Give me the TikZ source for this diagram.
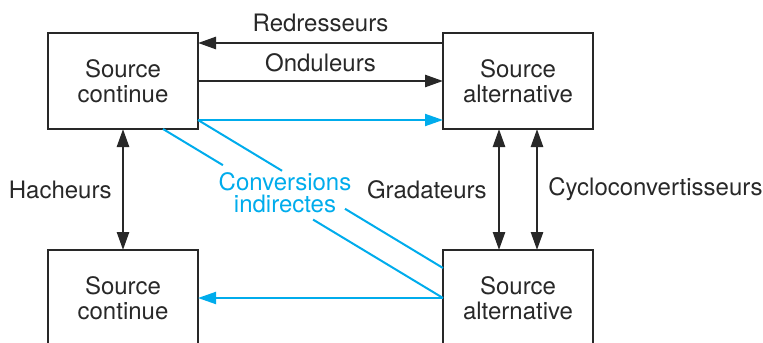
\documentclass[tikz,border=0pt]{standalone}
\usepackage{fontspec}
\setmainfont{TeX Gyre Heros}
\usetikzlibrary{positioning, calc, arrows.meta}
\definecolor{inkgray}{RGB}{40,40,40}
\definecolor{convblue}{RGB}{0,172,236}

\begin{document}
\begin{tikzpicture}[x=0.5pt, y=-0.5pt,
    >={Triangle[length=9pt,width=6pt]},
    src/.style={draw=inkgray, line width=1pt, minimum width=75pt, minimum height=48pt,
        inner sep=0pt, outer sep=0pt, align=center, text=inkgray,
        font=\fontsize{12}{12.5}\selectfont},
    conv/.style={draw=inkgray, line width=1.3pt},
    indir/.style={draw=convblue, line width=1pt},
    lbl/.style={text=inkgray, inner sep=0pt, font=\fontsize{12}{12}\selectfont},
    node distance=60.5pt and 122.5pt]
    \useasboundingbox (0,0) rectangle (763,342);
    \node[src] (C0) at (123,81) {Source\\continue};
    \node[src] (A0) [right=of C0] {Source\\alternative};
    \node[src] (C1) [below=of C0] {Source\\continue};
    \node[src] (A1) [below=of A0] {Source\\alternative};
    % direct conversions
    \draw[conv, ->] ($(A0.north west)+(0,10)$) -- node[lbl, anchor=base, yshift=5.5pt] {Redresseurs} ($(C0.north east)+(0,10)$);
    \draw[conv, ->] (C0) -- node[lbl, anchor=base, yshift=5pt] {Onduleurs} (A0);
    \draw[conv, <->] (C0) -- node[lbl, left=5pt] {Hacheurs} (C1);
    \draw[conv, <->] ($(A0.south)+(-19,0)$) -- node[lbl, left=5.5pt] {Gradateurs} ($(A1.north)+(-19,0)$);
    \draw[conv, <->] ($(A0.south)+(19,0)$) -- node[lbl, right=5pt] {Cycloconvertisseurs} ($(A1.north)+(19,0)$);
    % indirect conversions
    \coordinate (D0) at ($(C0.south east)+(0,-9)$);
    \coordinate (D1) at ($(C0.south)+(40,0)$);
    \coordinate (D2) at ($(A1.north west)+(0,18)$);
    \draw[indir, ->] (D0) -- (A0.west |- D0);
    \draw[indir, ->] (A1.west) -- (C1.east);
    \draw[indir] (D0) -- ($(D0)!0.343!(D2)$) ($(D0)!0.6!(D2)$) -- (D2);
    \draw[indir] (D1) -- ($(D1)!0.214!(A1.west)$) ($(D1)!0.536!(A1.west)$) -- (A1.west);
    \node[text=convblue, align=center, inner sep=0pt, font=\fontsize{12}{11}\selectfont] (IC) at (285,193) {Conversions\\indirectes};
\end{tikzpicture}
\end{document}
